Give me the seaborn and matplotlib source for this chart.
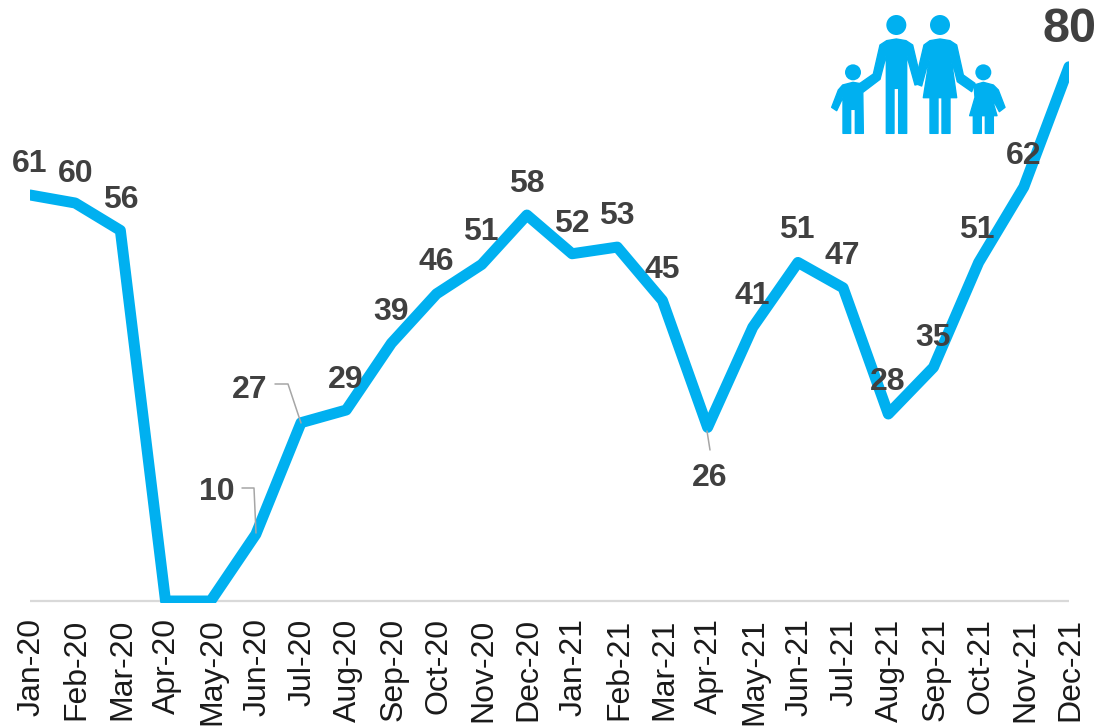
import matplotlib
matplotlib.use('Agg')
import matplotlib.pyplot as plt
from matplotlib.patches import Circle, Polygon
from matplotlib.transforms import ScaledTranslation
import seaborn as sns

months = ["Jan-20", "Feb-20", "Mar-20", "Apr-20", "May-20", "Jun-20", "Jul-20", "Aug-20",
          "Sep-20", "Oct-20", "Nov-20", "Dec-20", "Jan-21", "Feb-21", "Mar-21", "Apr-21",
          "May-21", "Jun-21", "Jul-21", "Aug-21", "Sep-21", "Oct-21", "Nov-21", "Dec-21"]
# line heights, the printed labels are rounded
values = [60.8, 59.6, 55.5, 0, 0, 10, 26.7, 28.6, 38.6, 46, 50.4, 57.8, 52, 53, 45, 26, 41, 50.7, 46.9, 28, 35, 50.7, 62, 80]
labels = ["61", "60", "56", "", "", "10", "27", "29", "39", "46", "51", "58",
          "52", "53", "45", "26", "41", "51", "47", "28", "35", "51", "62", "80"]

# label position in image pixels for each month (label centre)
label_x = [30, 76, 121, 0, 0, 217, 250, 346, 391, 436, 481, 527, 572, 617, 662, 710, 752, 797, 842, 888, 933, 977, 1024, 1069]
label_y = [160, 170, 196, 0, 0, 489, 386, 376, 308, 258, 229, 180, 220, 213, 266, 474, 293, 227, 253, 379, 334, 227, 152, 25]

BLUE = "#00B0F0"
W, H = 1099, 728

sns.set_style("white")
plt.rcParams['font.family'] = ['Liberation Sans', 'DejaVu Sans']

fig = plt.figure(figsize=(W / 100, H / 100), dpi=100)
ax = fig.add_axes([30 / W, (H - 603) / H, 1039 / W, 603 / H])

ax.axhline(0, color="#d9d9d9", lw=1.6, zorder=1)
sns.lineplot(x=months, y=values, color=BLUE, lw=7.9, ax=ax, zorder=2, sort=False)
ax.set_xlim(0, len(months) - 1)
ax.set_ylim(-0.3, 90)
ax.set_yticks([])
ax.set_xlabel("")
ax.set_ylabel("")
sns.despine(ax=ax, left=True, bottom=True)
ax.tick_params(axis='x', length=0, pad=11, labelsize=23, labelcolor="#1a1a1a")
shift = ScaledTranslation(1.2 / 72, 0, fig.dpi_scale_trans)
for t in ax.get_xticklabels():
    t.set_rotation(90)
    t.set_transform(t.get_transform() + shift)

# overlay in image pixels for the data labels, the leader lines and the family icon
ov = fig.add_axes([0, 0, 1, 1], facecolor='none')
ov.set_xlim(0, W)
ov.set_ylim(H, 0)
ov.axis('off')

for i, lab in enumerate(labels):
    if lab == "":
        continue
    big = i == len(labels) - 1
    ov.text(label_x[i], label_y[i], lab, ha='center', va='center_baseline', color="#404040",
            fontweight='bold', fontsize=35 if big else 23, zorder=5)

leaders = [([242, 254, 256], [488, 488, 533]),
           ([275, 288, 301], [384, 384, 423]),
           ([707, 710], [431, 450])]
for lx, ly in leaders:
    ov.plot(lx, ly, color="#a6a6a6", lw=1.1, zorder=6)


def icon_xy(pts):
    # points were read from the 3x zoom of the top right corner
    return [(820 + x / 3, y / 3) for x, y in pts]


heads = [(229, 75, 30), (360, 75, 30), (99, 217, 24), (490, 217, 24)]
for hx, hy, r in heads:
    ov.add_patch(Circle(icon_xy([(hx, hy)])[0], r / 3, color=BLUE, lw=0))

man = [(180, 135), (200, 122), (229, 117), (258, 122), (278, 135), (305, 250), (285, 255), (260, 165),
       (260, 400), (236, 400), (236, 265), (222, 265), (222, 400), (199, 400), (199, 165), (180, 238),
       (130, 276), (120, 250), (160, 222)]
woman = [(312, 135), (330, 122), (360, 117), (390, 122), (410, 135), (430, 225), (465, 250), (455, 275),
         (412, 245), (392, 165), (410, 293), (390, 293), (390, 400), (366, 400), (366, 293), (354, 293),
         (354, 400), (330, 400), (330, 293), (310, 293), (330, 165), (305, 258), (285, 250)]
boy = [(68, 255), (99, 247), (128, 252), (130, 400), (106, 400), (106, 328), (92, 328), (92, 400),
       (69, 400), (69, 292), (50, 332), (35, 322), (55, 270)]
girl = [(462, 255), (490, 247), (520, 255), (535, 270), (555, 322), (538, 335), (515, 292), (531, 347),
        (520, 347), (520, 400), (496, 400), (496, 347), (484, 347), (484, 400), (460, 400), (460, 347),
        (449, 347), (465, 292)]
for body in [man, woman, boy, girl]:
    ov.add_patch(Polygon(icon_xy(body), closed=True, facecolor=BLUE, edgecolor=BLUE, lw=1, joinstyle='round'))

fig.savefig("out.png", dpi=100, facecolor='white')
